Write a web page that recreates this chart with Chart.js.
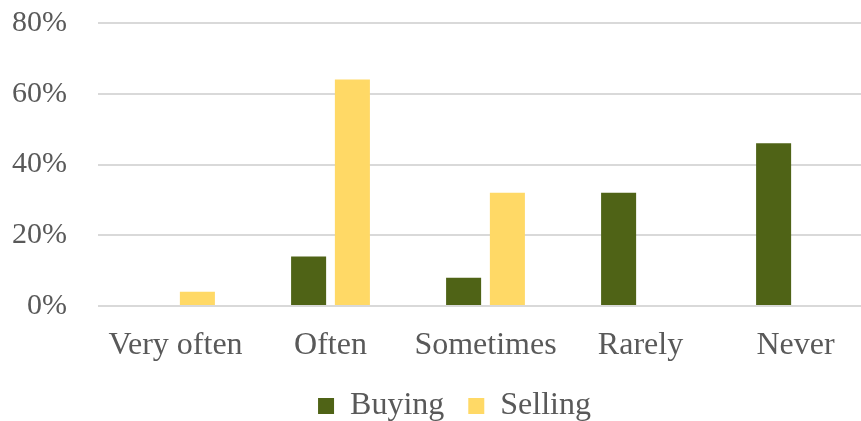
<!DOCTYPE html>
<html>
<head>
<meta charset="utf-8">
<script src="https://cdn.jsdelivr.net/npm/chart.js@4"></script>
<style>
  html, body { margin: 0; padding: 0; background: #fff; overflow: hidden; }
  #wrap { width: 861px; height: 421px; overflow: hidden; }
</style>
</head>
<body>
<!-- canvas is a bit wider than the window: the original plot runs past the right edge -->
<div id="wrap"><canvas id="myChart" width="873" height="421"></canvas></div>
<script>
const categories = ['Very often', 'Often', 'Sometimes', 'Rarely', 'Never']
const buying = [0, 14, 8, 32, 46]
const selling = [4, 64, 32, 0, 0]
const yTicks = [0, 20, 40, 60, 80]

const family = "'Liberation Serif', 'Times New Roman', serif"
const textColor = '#595959'

// legend in the original sits a little right of centre
const legendShift = {
  id: 'legendShift',
  afterLayout: chart => {
    chart.legend.left += 18
    chart.legend.right += 18
  }
}

const ctx = document.getElementById('myChart').getContext('2d')
new Chart(ctx, {
  type: 'bar',
  data: {
    labels: categories,
    datasets: [
      { label: 'Buying', data: buying, backgroundColor: '#4f6316', barPercentage: 0.8, categoryPercentage: 0.565 },
      { label: 'Selling', data: selling, backgroundColor: '#ffd966', barPercentage: 0.8, categoryPercentage: 0.565 }
    ]
  },
  options: {
    responsive: false,
    animation: false,
    layout: { padding: { left: 0, right: 0, top: 23, bottom: -11 } },
    plugins: {
      tooltip: { enabled: false },
      legend: {
        position: 'bottom',
        labels: {
          font: { family, size: 32 }, color: textColor,
          boxWidth: 16, boxHeight: 16, padding: 24
        }
      }
    },
    scales: {
      x: {
        grid: { display: false, drawTicks: false },
        border: { display: false },
        ticks: { font: { family, size: 32 }, color: textColor, padding: 20 },
        afterFit: s => { s.height = 60 }
      },
      y: {
        min: 0, max: 80,
        afterBuildTicks: axis => { axis.ticks = yTicks.map(v => ({ value: v })) },
        grid: { color: '#d9d9d9', lineWidth: 2, drawTicks: false },
        border: { display: false },
        ticks: { font: { family, size: 30 }, color: textColor, padding: 31, callback: v => v + '%' },
        afterFit: s => { s.width = 98; s.paddingTop = 0; s.paddingBottom = 0 }
      }
    }
  },
  plugins: [legendShift]
})
</script>
</body>
</html>
